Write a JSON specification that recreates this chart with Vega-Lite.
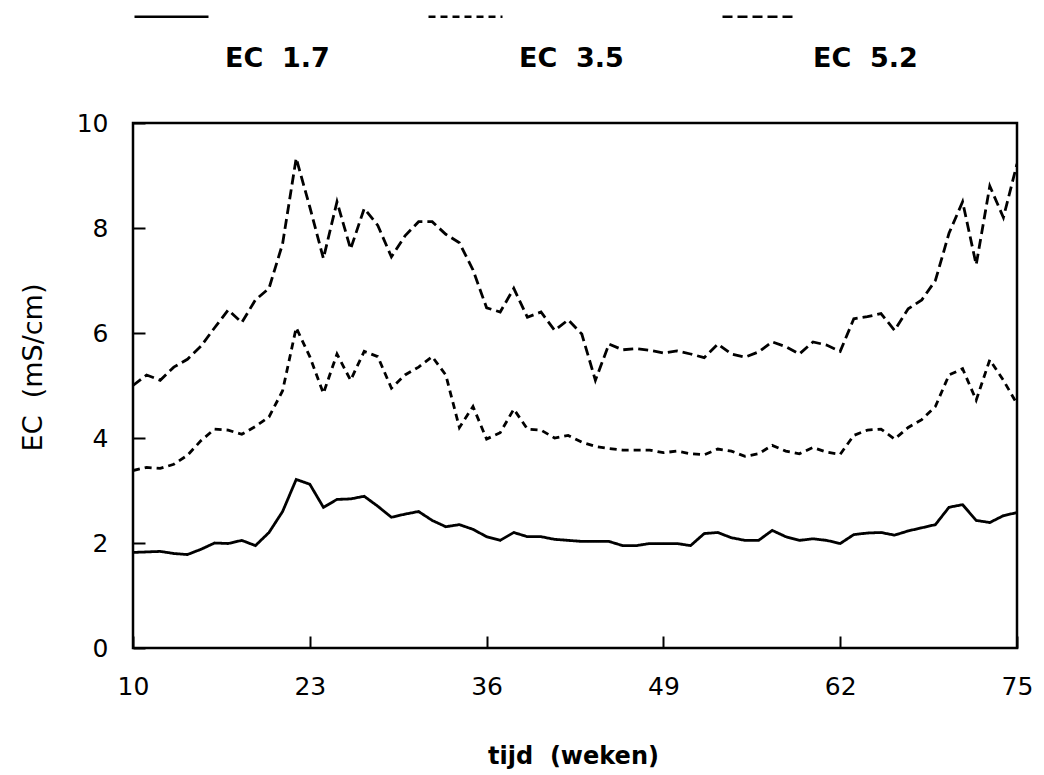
{
  "$schema": "https://vega.github.io/schema/vega-lite/v6.json",
  "width": 884,
  "height": 525,
  "autosize": {"type": "none"},
  "padding": {"left": 133, "top": 123, "right": 27, "bottom": 127},
  "background": "white",
  "config": {
    "font": "DejaVu Sans",
    "view": {"stroke": "black", "strokeWidth": 2.5}
  },
  "data": {"values": [
    {"week":10,"series":"EC  1.7","ec":1.82},{"week":11,"series":"EC  1.7","ec":1.83},{"week":12,"series":"EC  1.7","ec":1.84},{"week":13,"series":"EC  1.7","ec":1.80},{"week":14,"series":"EC  1.7","ec":1.78},{"week":15,"series":"EC  1.7","ec":1.88},{"week":16,"series":"EC  1.7","ec":2.0},{"week":17,"series":"EC  1.7","ec":1.99},{"week":18,"series":"EC  1.7","ec":2.05},{"week":19,"series":"EC  1.7","ec":1.95},
    {"week":20,"series":"EC  1.7","ec":2.2},{"week":21,"series":"EC  1.7","ec":2.6},{"week":22,"series":"EC  1.7","ec":3.21},{"week":23,"series":"EC  1.7","ec":3.12},{"week":24,"series":"EC  1.7","ec":2.68},{"week":25,"series":"EC  1.7","ec":2.83},{"week":26,"series":"EC  1.7","ec":2.84},{"week":27,"series":"EC  1.7","ec":2.89},{"week":28,"series":"EC  1.7","ec":2.70},{"week":29,"series":"EC  1.7","ec":2.49},
    {"week":30,"series":"EC  1.7","ec":2.55},{"week":31,"series":"EC  1.7","ec":2.6},{"week":32,"series":"EC  1.7","ec":2.43},{"week":33,"series":"EC  1.7","ec":2.31},{"week":34,"series":"EC  1.7","ec":2.35},{"week":35,"series":"EC  1.7","ec":2.26},{"week":36,"series":"EC  1.7","ec":2.12},{"week":37,"series":"EC  1.7","ec":2.05},{"week":38,"series":"EC  1.7","ec":2.2},{"week":39,"series":"EC  1.7","ec":2.12},
    {"week":40,"series":"EC  1.7","ec":2.12},{"week":41,"series":"EC  1.7","ec":2.07},{"week":42,"series":"EC  1.7","ec":2.05},{"week":43,"series":"EC  1.7","ec":2.03},{"week":44,"series":"EC  1.7","ec":2.03},{"week":45,"series":"EC  1.7","ec":2.03},{"week":46,"series":"EC  1.7","ec":1.95},{"week":47,"series":"EC  1.7","ec":1.95},{"week":48,"series":"EC  1.7","ec":1.99},{"week":49,"series":"EC  1.7","ec":1.99},
    {"week":50,"series":"EC  1.7","ec":1.99},{"week":51,"series":"EC  1.7","ec":1.95},{"week":52,"series":"EC  1.7","ec":2.18},{"week":53,"series":"EC  1.7","ec":2.2},{"week":54,"series":"EC  1.7","ec":2.1},{"week":55,"series":"EC  1.7","ec":2.05},{"week":56,"series":"EC  1.7","ec":2.05},{"week":57,"series":"EC  1.7","ec":2.24},{"week":58,"series":"EC  1.7","ec":2.12},{"week":59,"series":"EC  1.7","ec":2.05},
    {"week":60,"series":"EC  1.7","ec":2.08},{"week":61,"series":"EC  1.7","ec":2.05},{"week":62,"series":"EC  1.7","ec":1.99},{"week":63,"series":"EC  1.7","ec":2.16},{"week":64,"series":"EC  1.7","ec":2.19},{"week":65,"series":"EC  1.7","ec":2.2},{"week":66,"series":"EC  1.7","ec":2.15},{"week":67,"series":"EC  1.7","ec":2.23},{"week":68,"series":"EC  1.7","ec":2.29},{"week":69,"series":"EC  1.7","ec":2.35},
    {"week":70,"series":"EC  1.7","ec":2.68},{"week":71,"series":"EC  1.7","ec":2.73},{"week":72,"series":"EC  1.7","ec":2.43},{"week":73,"series":"EC  1.7","ec":2.39},{"week":74,"series":"EC  1.7","ec":2.52},{"week":75,"series":"EC  1.7","ec":2.58},

    {"week":10,"series":"EC  3.5","ec":3.38},{"week":11,"series":"EC  3.5","ec":3.44},{"week":12,"series":"EC  3.5","ec":3.42},{"week":13,"series":"EC  3.5","ec":3.5},{"week":14,"series":"EC  3.5","ec":3.67},{"week":15,"series":"EC  3.5","ec":3.95},{"week":16,"series":"EC  3.5","ec":4.17},{"week":17,"series":"EC  3.5","ec":4.15},{"week":18,"series":"EC  3.5","ec":4.07},{"week":19,"series":"EC  3.5","ec":4.22},
    {"week":20,"series":"EC  3.5","ec":4.4},{"week":21,"series":"EC  3.5","ec":4.9},{"week":22,"series":"EC  3.5","ec":6.1},{"week":23,"series":"EC  3.5","ec":5.55},{"week":24,"series":"EC  3.5","ec":4.85},{"week":25,"series":"EC  3.5","ec":5.6},{"week":26,"series":"EC  3.5","ec":5.1},{"week":27,"series":"EC  3.5","ec":5.65},{"week":28,"series":"EC  3.5","ec":5.55},{"week":29,"series":"EC  3.5","ec":4.95},
    {"week":30,"series":"EC  3.5","ec":5.2},{"week":31,"series":"EC  3.5","ec":5.35},{"week":32,"series":"EC  3.5","ec":5.55},{"week":33,"series":"EC  3.5","ec":5.2},{"week":34,"series":"EC  3.5","ec":4.2},{"week":35,"series":"EC  3.5","ec":4.6},{"week":36,"series":"EC  3.5","ec":3.98},{"week":37,"series":"EC  3.5","ec":4.1},{"week":38,"series":"EC  3.5","ec":4.55},{"week":39,"series":"EC  3.5","ec":4.17},
    {"week":40,"series":"EC  3.5","ec":4.15},{"week":41,"series":"EC  3.5","ec":4.0},{"week":42,"series":"EC  3.5","ec":4.05},{"week":43,"series":"EC  3.5","ec":3.92},{"week":44,"series":"EC  3.5","ec":3.84},{"week":45,"series":"EC  3.5","ec":3.8},{"week":46,"series":"EC  3.5","ec":3.77},{"week":47,"series":"EC  3.5","ec":3.77},{"week":48,"series":"EC  3.5","ec":3.77},{"week":49,"series":"EC  3.5","ec":3.72},
    {"week":50,"series":"EC  3.5","ec":3.75},{"week":51,"series":"EC  3.5","ec":3.7},{"week":52,"series":"EC  3.5","ec":3.68},{"week":53,"series":"EC  3.5","ec":3.79},{"week":54,"series":"EC  3.5","ec":3.75},{"week":55,"series":"EC  3.5","ec":3.65},{"week":56,"series":"EC  3.5","ec":3.7},{"week":57,"series":"EC  3.5","ec":3.86},{"week":58,"series":"EC  3.5","ec":3.75},{"week":59,"series":"EC  3.5","ec":3.7},
    {"week":60,"series":"EC  3.5","ec":3.82},{"week":61,"series":"EC  3.5","ec":3.73},{"week":62,"series":"EC  3.5","ec":3.69},{"week":63,"series":"EC  3.5","ec":4.05},{"week":64,"series":"EC  3.5","ec":4.15},{"week":65,"series":"EC  3.5","ec":4.17},{"week":66,"series":"EC  3.5","ec":3.98},{"week":67,"series":"EC  3.5","ec":4.2},{"week":68,"series":"EC  3.5","ec":4.35},{"week":69,"series":"EC  3.5","ec":4.6},
    {"week":70,"series":"EC  3.5","ec":5.2},{"week":71,"series":"EC  3.5","ec":5.32},{"week":72,"series":"EC  3.5","ec":4.72},{"week":73,"series":"EC  3.5","ec":5.49},{"week":74,"series":"EC  3.5","ec":5.1},{"week":75,"series":"EC  3.5","ec":4.65},

    {"week":10,"series":"EC  5.2","ec":5.0},{"week":11,"series":"EC  5.2","ec":5.2},{"week":12,"series":"EC  5.2","ec":5.1},{"week":13,"series":"EC  5.2","ec":5.35},{"week":14,"series":"EC  5.2","ec":5.5},{"week":15,"series":"EC  5.2","ec":5.75},{"week":16,"series":"EC  5.2","ec":6.1},{"week":17,"series":"EC  5.2","ec":6.44},{"week":18,"series":"EC  5.2","ec":6.2},{"week":19,"series":"EC  5.2","ec":6.63},
    {"week":20,"series":"EC  5.2","ec":6.85},{"week":21,"series":"EC  5.2","ec":7.7},{"week":22,"series":"EC  5.2","ec":9.33},{"week":23,"series":"EC  5.2","ec":8.4},{"week":24,"series":"EC  5.2","ec":7.42},{"week":25,"series":"EC  5.2","ec":8.5},{"week":26,"series":"EC  5.2","ec":7.6},{"week":27,"series":"EC  5.2","ec":8.37},{"week":28,"series":"EC  5.2","ec":8.05},{"week":29,"series":"EC  5.2","ec":7.45},
    {"week":30,"series":"EC  5.2","ec":7.85},{"week":31,"series":"EC  5.2","ec":8.12},{"week":32,"series":"EC  5.2","ec":8.12},{"week":33,"series":"EC  5.2","ec":7.88},{"week":34,"series":"EC  5.2","ec":7.72},{"week":35,"series":"EC  5.2","ec":7.2},{"week":36,"series":"EC  5.2","ec":6.48},{"week":37,"series":"EC  5.2","ec":6.4},{"week":38,"series":"EC  5.2","ec":6.85},{"week":39,"series":"EC  5.2","ec":6.3},
    {"week":40,"series":"EC  5.2","ec":6.4},{"week":41,"series":"EC  5.2","ec":6.05},{"week":42,"series":"EC  5.2","ec":6.25},{"week":43,"series":"EC  5.2","ec":5.98},{"week":44,"series":"EC  5.2","ec":5.1},{"week":45,"series":"EC  5.2","ec":5.79},{"week":46,"series":"EC  5.2","ec":5.68},{"week":47,"series":"EC  5.2","ec":5.7},{"week":48,"series":"EC  5.2","ec":5.67},{"week":49,"series":"EC  5.2","ec":5.62},
    {"week":50,"series":"EC  5.2","ec":5.66},{"week":51,"series":"EC  5.2","ec":5.6},{"week":52,"series":"EC  5.2","ec":5.53},{"week":53,"series":"EC  5.2","ec":5.79},{"week":54,"series":"EC  5.2","ec":5.6},{"week":55,"series":"EC  5.2","ec":5.54},{"week":56,"series":"EC  5.2","ec":5.64},{"week":57,"series":"EC  5.2","ec":5.83},{"week":58,"series":"EC  5.2","ec":5.74},{"week":59,"series":"EC  5.2","ec":5.6},
    {"week":60,"series":"EC  5.2","ec":5.83},{"week":61,"series":"EC  5.2","ec":5.77},{"week":62,"series":"EC  5.2","ec":5.65},{"week":63,"series":"EC  5.2","ec":6.27},{"week":64,"series":"EC  5.2","ec":6.31},{"week":65,"series":"EC  5.2","ec":6.37},{"week":66,"series":"EC  5.2","ec":6.05},{"week":67,"series":"EC  5.2","ec":6.46},{"week":68,"series":"EC  5.2","ec":6.63},{"week":69,"series":"EC  5.2","ec":7.0},
    {"week":70,"series":"EC  5.2","ec":7.9},{"week":71,"series":"EC  5.2","ec":8.5},{"week":72,"series":"EC  5.2","ec":7.3},{"week":73,"series":"EC  5.2","ec":8.8},{"week":74,"series":"EC  5.2","ec":8.2},{"week":75,"series":"EC  5.2","ec":9.22}
  ]},
  "mark": {"type": "line", "color": "black", "strokeWidth": 2.8, "clip": true},
  "encoding": {
    "x": {
      "field": "week", "type": "quantitative",
      "scale": {"domain": [10, 75], "nice": false, "zero": false},
      "axis": {
        "values": [10, 23, 36, 49, 62, 75],
        "grid": false, "domain": false, "offset": -12,
        "tickColor": "black", "tickWidth": 2, "tickSize": 12,
        "labelFont": "DejaVu Sans", "labelFontSize": 25, "labelColor": "black",
        "labelBaseline": "middle", "labelPadding": 38, "labelFlush": false,
        "title": "tijd\u00a0\u00a0(weken)",
        "titleFont": "DejaVu Sans", "titleFontSize": 24, "titleFontWeight": "bold", "titleColor": "black",
        "titleX": 440, "titleY": 120, "titleBaseline": "middle", "titleAlign": "center"
      }
    },
    "y": {
      "field": "ec", "type": "quantitative",
      "scale": {"domain": [0, 10], "nice": false},
      "axis": {
        "values": [0, 2, 4, 6, 8, 10],
        "grid": false, "domain": false, "offset": -12,
        "tickColor": "black", "tickWidth": 2, "tickSize": 12,
        "labelFont": "DejaVu Sans", "labelFontSize": 25, "labelColor": "black",
        "labelPadding": 25, "labelFlush": false, "labelBaseline": "middle",
        "title": "EC\u00a0\u00a0(mS/cm)",
        "titleFont": "DejaVu Sans", "titleFontSize": 27, "titleFontWeight": "normal", "titleColor": "black",
        "titleX": -112, "titleY": 244, "titleAngle": 270, "titleBaseline": "middle", "titleAlign": "center"
      }
    },
    "strokeDash": {
      "field": "series", "type": "nominal",
      "scale": {"domain": ["EC  1.7", "EC  3.5", "EC  5.2"], "range": [[1, 0], [7, 5], [10, 5]]},
      "legend": {
        "orient": "none", "legendX": 0, "legendY": -145,
        "direction": "horizontal", "title": null,
        "symbolType": "stroke", "symbolSize": 5476, "symbolStrokeWidth": 2.5, "symbolStrokeColor": "black",
        "labelFont": "DejaVu Sans", "labelFontWeight": "bold", "labelFontSize": 27, "labelColor": "black",
        "labelOffset": 15, "columnPadding": 93, "labelLimit": 400,
        "labelBaseline": "top",
        "labelExpr": "['', replace(datum.label, '  ', '\u00a0\u00a0')]"
      }
    }
  }
}
